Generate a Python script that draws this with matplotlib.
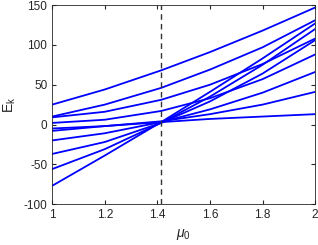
import numpy as np
import matplotlib
matplotlib.use("Agg")
import matplotlib.pyplot as plt

plt.rcParams['font.family'] = ['Liberation Sans', 'DejaVu Sans']
plt.rcParams['mathtext.fontset'] = 'custom'
plt.rcParams['mathtext.rm'] = 'Liberation Sans'
plt.rcParams['mathtext.it'] = 'Liberation Sans:italic'

mu0 = [1.0, 1.2, 1.4142, 1.6, 1.8, 2.0]
E1 = [25, 44, 68, 91, 118, 147]
E2 = [10, 25, 46, 69, 97, 131]
E3 = [9, 16, 31, 50, 76, 108]
E4 = [2, 6, 17, 33, 57, 88]
E5 = [-5, -2, 4, 13, 25, 41]
E6 = [-8, -2, 3, 7, 10, 13]
E7 = [-20, -11, 3, 19, 40, 66]
E8 = [-37, -22, 2, 29, 64, 106]
E9 = [-56, -31, 2, 35, 75, 120]
E10 = [-77, -39, 3, 41, 83, 127]
series = [E1, E2, E3, E4, E5, E6, E7, E8, E9, E10]
mu_c = np.sqrt(2)

xticks = [1, 1.2, 1.4, 1.6, 1.8, 2]
xticklabels = ["1", "1.2", "1.4", "1.6", "1.8", "2"]
yticks = [-100, -50, 0, 50, 100, 150]
yticklabels = ["-100", "-50", "0", "50", "100", "150"]

fig = plt.figure(figsize=(3.18, 2.45), dpi=100)
ax = fig.add_axes([0.164, 0.167, 0.827, 0.812])
for s in series:
    ax.plot(mu0, s, color="#0000ff", lw=1.3)
ax.axvline(mu_c, color="#333333", lw=1.0, ls=(0, (4, 3)))
ax.set_xlim(1, 2)
ax.set_ylim(-100, 150)
ax.set_xticks(xticks)
ax.set_xticklabels(xticklabels)
ax.set_yticks(yticks)
ax.set_yticklabels(yticklabels)
ax.tick_params(direction="in", length=3, labelsize=8.5, color="#262626", labelcolor="#262626", top=True, right=True, labeltop=False, labelright=False)
for sp in ax.spines.values():
    sp.set_color("#262626")
    sp.set_linewidth(0.6)
ax.set_xlabel(r"$\mu_0$", fontsize=10, color="#262626")
ax.set_ylabel(r"$\mathrm{E_k}$", fontsize=10, color="#262626")
fig.savefig("out.png", dpi=100)
